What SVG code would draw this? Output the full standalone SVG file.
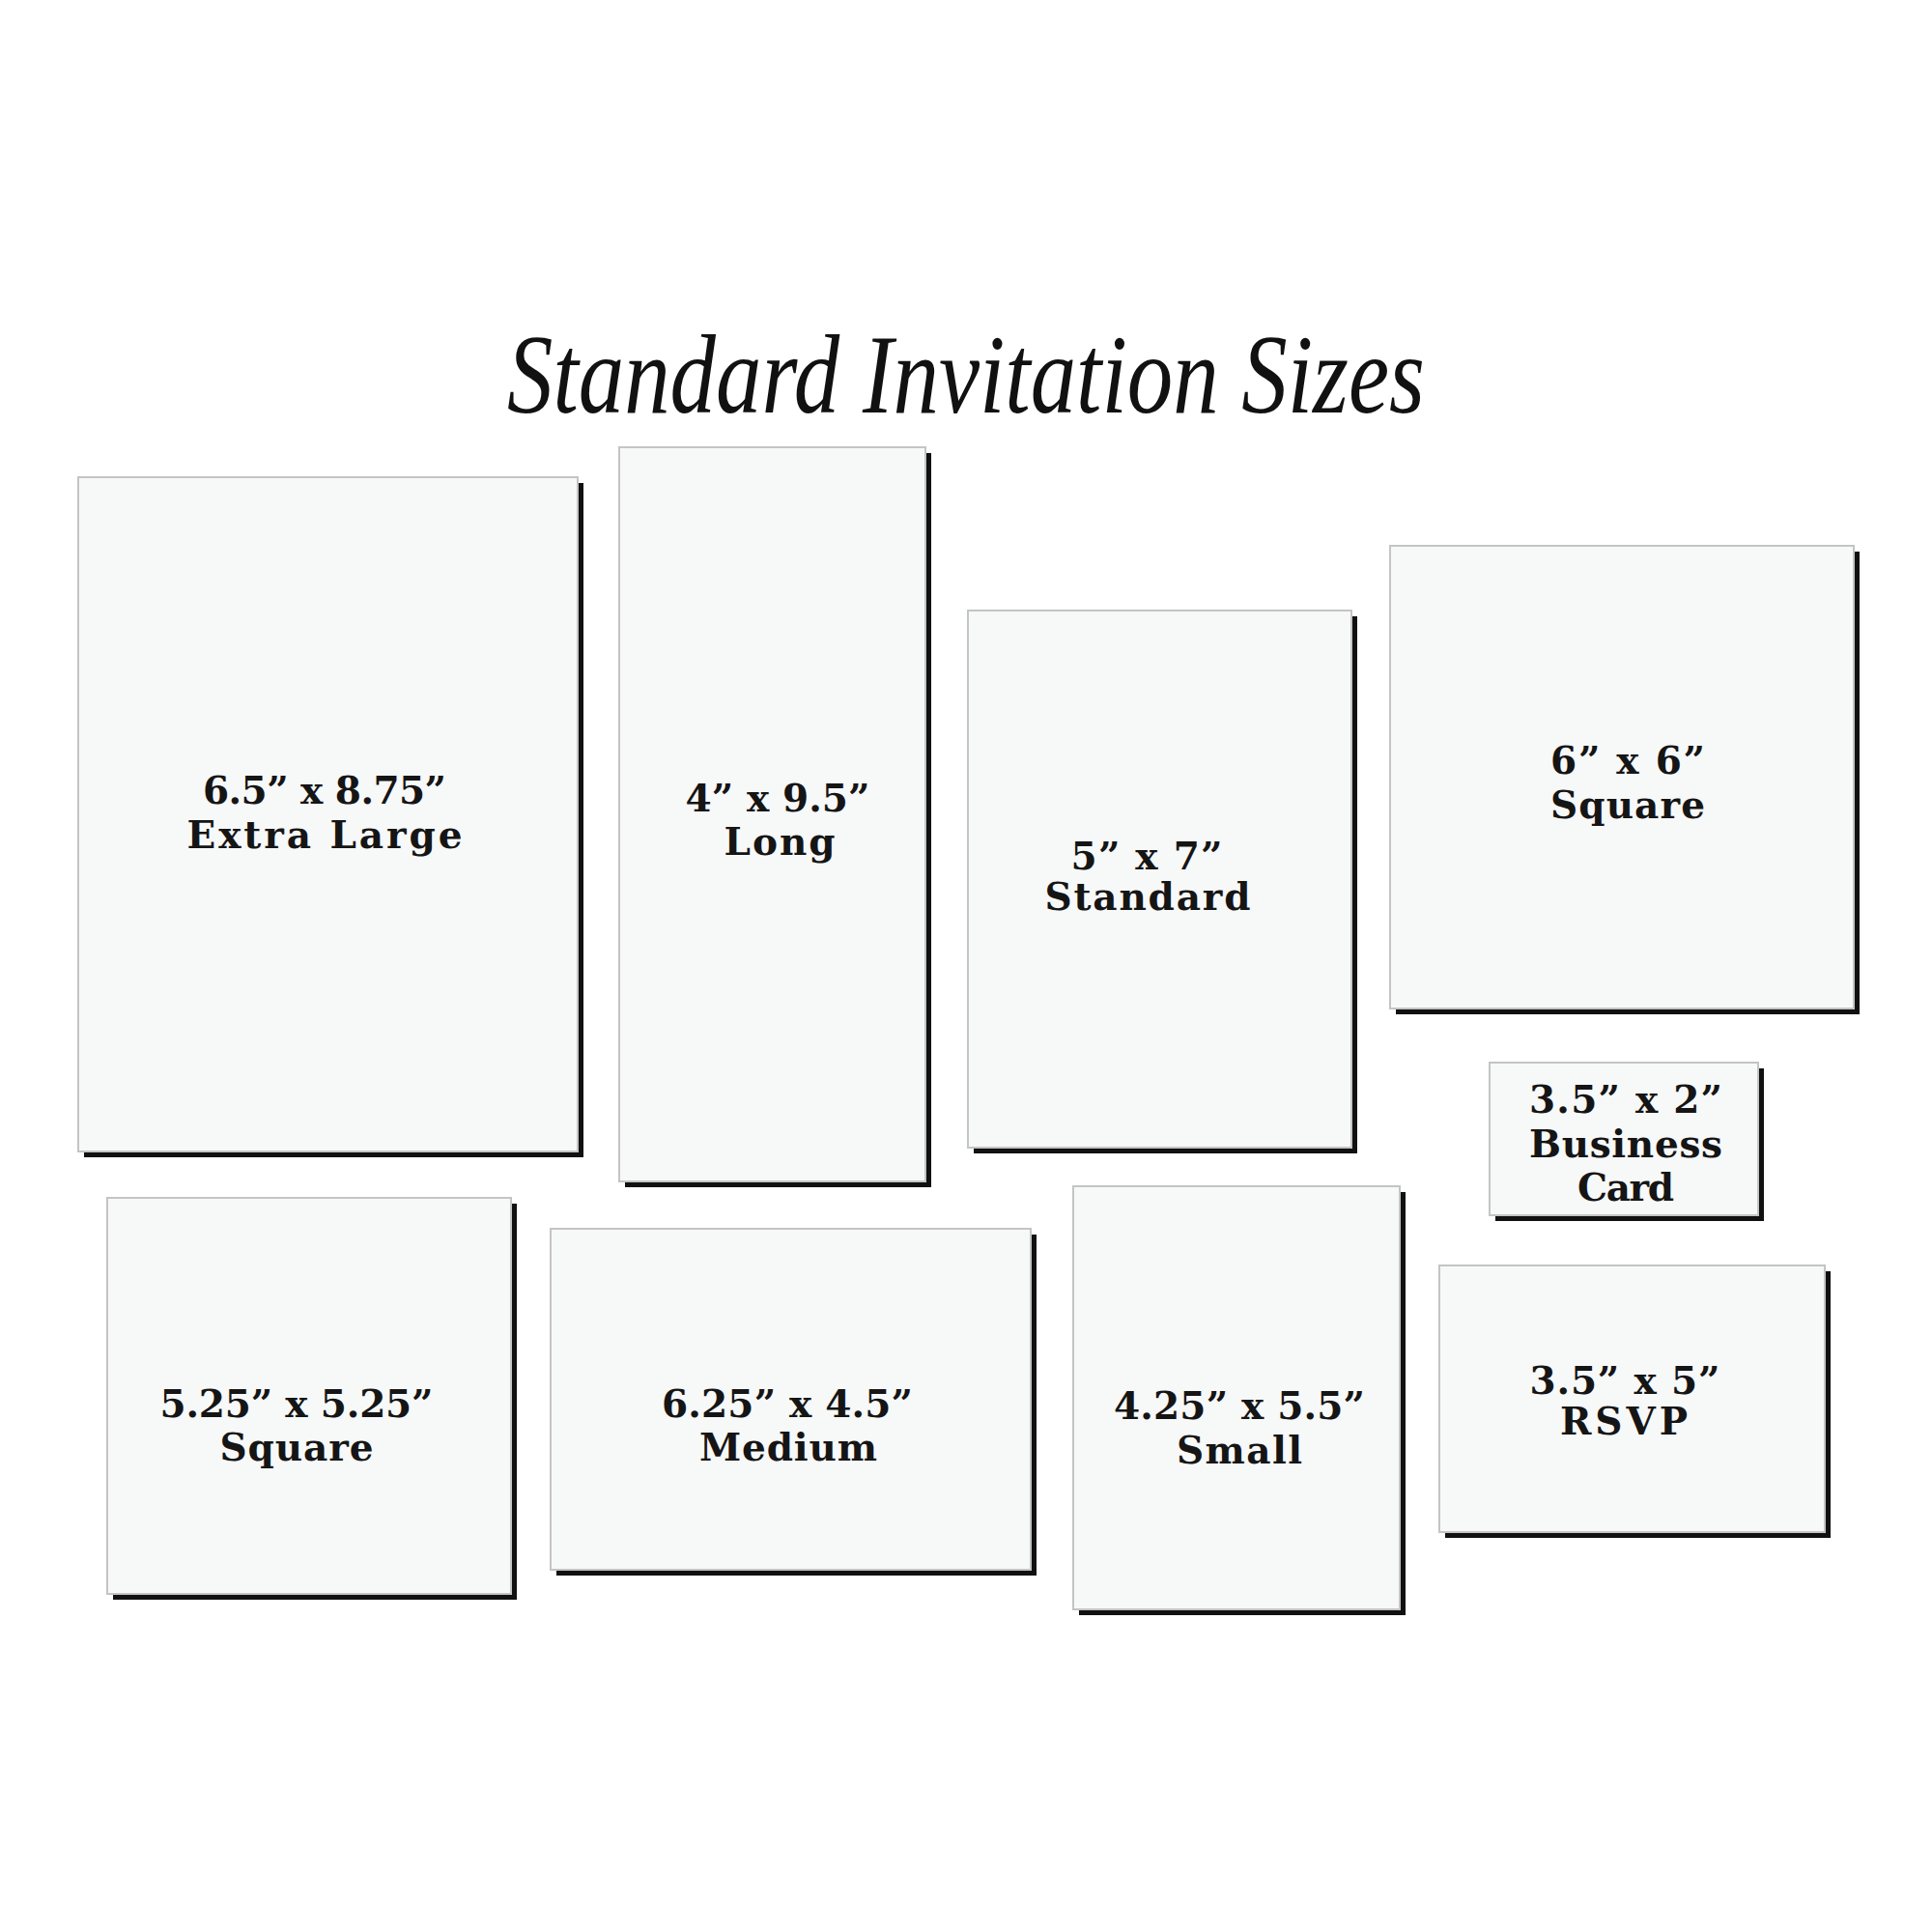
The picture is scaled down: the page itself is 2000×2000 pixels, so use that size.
<svg xmlns="http://www.w3.org/2000/svg" width="2000" height="2000" viewBox="0 0 2000 2000">
<style>
.bg{fill:#ffffff}
.shadow{fill:#111111}
.card{fill:#f7f8f8;stroke:#c4c4c4;stroke-width:2}
.lbl{font-family:"DejaVu Serif","Liberation Serif",serif;font-weight:bold;font-size:39px;fill:#151515;text-anchor:middle}
.title{font-family:"Liberation Serif","DejaVu Serif",serif;font-style:italic;font-size:116px;fill:#111111;text-anchor:middle}
</style>
<rect class="bg" x="0" y="0" width="2000" height="2000"/>
<text id="title" class="title" x="1000" y="427" textLength="950" lengthAdjust="spacingAndGlyphs">Standard Invitation Sizes</text>

<g id="card-extra-large">
<rect class="shadow" x="87" y="500" width="517" height="698"/>
<rect class="card" x="81" y="494" width="517" height="698"/>
<text class="lbl" x="336" y="832" textLength="252">6.5” x 8.75”</text>
<text class="lbl" x="336" y="878" textLength="285">Extra Large</text>
</g>

<g id="card-long">
<rect class="shadow" x="647" y="469" width="317" height="760"/>
<rect class="card" x="641" y="463" width="317" height="760"/>
<text class="lbl" x="805" y="840" textLength="191">4” x 9.5”</text>
<text class="lbl" x="807" y="885" textLength="115">Long</text>
</g>

<g id="card-standard">
<rect class="shadow" x="1008" y="638" width="397" height="556"/>
<rect class="card" x="1002" y="632" width="397" height="556"/>
<text class="lbl" x="1187" y="900" textLength="157">5” x 7”</text>
<text class="lbl" x="1188" y="942" textLength="213">Standard</text>
</g>

<g id="card-square-6">
<rect class="shadow" x="1445" y="571" width="480" height="479"/>
<rect class="card" x="1439" y="565" width="480" height="479"/>
<text class="lbl" x="1685" y="801" textLength="160">6” x 6”</text>
<text class="lbl" x="1685" y="847" textLength="160">Square</text>
</g>

<g id="card-business">
<rect class="shadow" x="1548" y="1106" width="278" height="158"/>
<rect class="card" x="1542" y="1100" width="278" height="158"/>
<text class="lbl" x="1683" y="1152" textLength="200">3.5” x 2”</text>
<text class="lbl" x="1683" y="1198" textLength="200">Business</text>
<text class="lbl" x="1683" y="1243" textLength="100">Card</text>
</g>

<g id="card-square-525">
<rect class="shadow" x="117" y="1246" width="418" height="410"/>
<rect class="card" x="111" y="1240" width="418" height="410"/>
<text class="lbl" x="307" y="1467" textLength="283">5.25” x 5.25”</text>
<text class="lbl" x="307" y="1512" textLength="159">Square</text>
</g>

<g id="card-medium">
<rect class="shadow" x="576" y="1278" width="497" height="353"/>
<rect class="card" x="570" y="1272" width="497" height="353"/>
<text class="lbl" x="815" y="1467" textLength="260">6.25” x 4.5”</text>
<text class="lbl" x="816" y="1512" textLength="184">Medium</text>
</g>

<g id="card-small">
<rect class="shadow" x="1117" y="1234" width="338" height="438"/>
<rect class="card" x="1111" y="1228" width="338" height="438"/>
<text class="lbl" x="1283" y="1469" textLength="260">4.25” x 5.5”</text>
<text class="lbl" x="1283" y="1515" textLength="130">Small</text>
</g>

<g id="card-rsvp">
<rect class="shadow" x="1496" y="1316" width="399" height="276"/>
<rect class="card" x="1490" y="1310" width="399" height="276"/>
<text class="lbl" x="1682" y="1443" textLength="197">3.5” x 5”</text>
<text class="lbl" x="1681" y="1485" textLength="132">RSVP</text>
</g>

<g id="connectors"></g>
</svg>
